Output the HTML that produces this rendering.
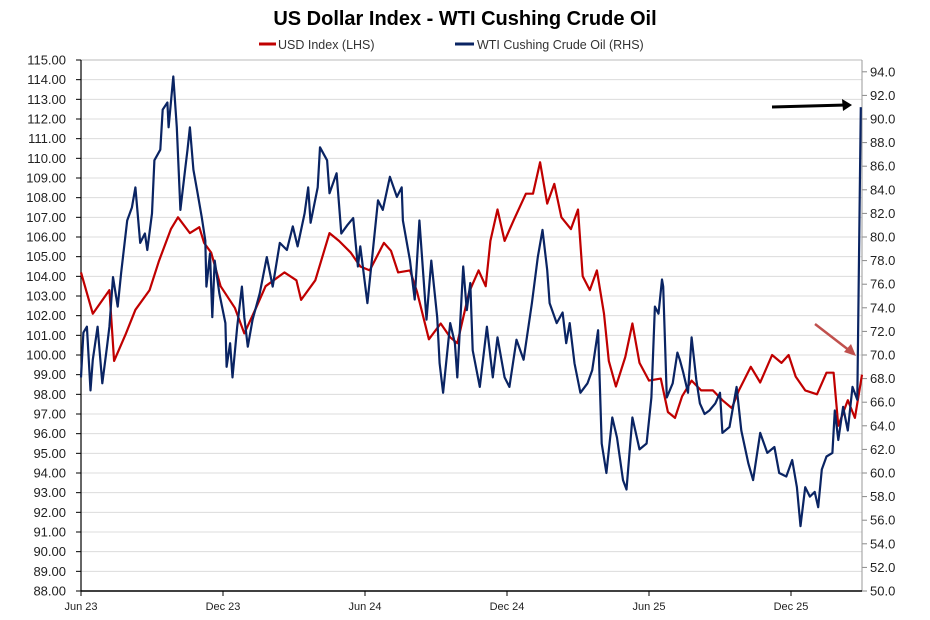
<!DOCTYPE html>
<html><head><meta charset="utf-8"><style>
body{margin:0;background:#fff;}
svg{display:block;font-family:"Liberation Sans",sans-serif;}
</style></head><body>
<svg id="chart" width="930" height="620" viewBox="0 0 930 620">
<text x="465" y="25" text-anchor="middle" font-size="20" font-weight="bold" fill="#000">US Dollar Index - WTI Cushing Crude Oil</text>
<g>
<g><line x1="259" y1="44" x2="276" y2="44" stroke="#c00000" stroke-width="3"/><text x="278" y="49" font-size="12.5" fill="#333">USD Index (LHS)</text></g>
<g><line x1="455" y1="44" x2="474" y2="44" stroke="#0a2463" stroke-width="3"/><text x="477" y="49" font-size="12.5" fill="#333">WTI Cushing Crude Oil (RHS)</text></g>
</g>
<g id="grid"></g>
<g id="laxis"></g>
<g id="raxis"></g>
<g id="xaxis"></g>
<g id="series"></g>
<g>
<line x1="772" y1="107" x2="846" y2="105" stroke="#000" stroke-width="3"/>
<polygon points="852,105 842,99 843,111" fill="#000"/>
<line x1="815" y1="324" x2="850" y2="351" stroke="#c0504d" stroke-width="2.5"/>
<polygon points="856,356 844,352 851,344" fill="#c0504d"/>
</g>
</svg>
<script>
const usdT=[0,0.5,1.2,1.4,1.9,2.3,2.9,3.3,3.8,4.1,4.6,5.0,5.2,5.5,5.9,6.5,6.9,7.4,7.8,8.6,9.1,9.3,9.9,10.5,10.9,11.4,11.8,12.2,12.8,13.1,13.4,13.9,14.2,14.7,15.2,15.6,15.9,16.4,16.8,17.1,17.3,17.6,17.9,18.3,18.8,19.1,19.4,19.7,20.0,20.3,20.7,21.0,21.2,21.5,21.8,22.1,22.3,22.6,23.0,23.3,23.6,24.0,24.5,24.8,25.1,25.4,25.8,26.2,26.7,27.1,27.5,27.8,28.3,28.7,29.2,29.6,29.9,30.2,30.6,31.1,31.5,31.8,32.0,32.4,32.7,33.0];
const usdV=[104.2,102.1,103.3,99.7,101.1,102.3,103.3,104.8,106.4,107.0,106.2,106.5,105.7,105.2,103.5,102.4,101.1,102.4,103.5,104.2,103.8,102.8,103.8,106.2,105.8,105.2,104.5,104.3,105.7,105.3,104.2,104.3,103.2,100.8,101.6,100.9,100.6,103.2,104.3,103.5,105.8,107.4,105.8,106.9,108.2,108.2,109.8,107.7,108.7,107.0,106.4,107.4,104.0,103.3,104.3,102.1,99.7,98.4,99.9,101.6,99.6,98.7,98.8,97.1,96.8,97.9,98.7,98.2,98.2,97.7,97.3,98.2,99.4,98.6,100.0,99.6,100.0,98.9,98.2,98.0,99.1,99.1,96.4,97.7,96.8,99.0];
const wtiT=[0,0.1,0.25,0.4,0.5,0.7,0.9,1.1,1.2,1.35,1.55,1.7,1.95,2.15,2.3,2.5,2.7,2.8,3.0,3.1,3.35,3.45,3.65,3.7,3.9,4.05,4.2,4.4,4.5,4.6,4.75,4.9,5.1,5.25,5.3,5.45,5.55,5.65,5.85,6.1,6.15,6.3,6.4,6.6,6.8,6.9,7.05,7.25,7.55,7.85,8.1,8.4,8.7,8.95,9.15,9.45,9.6,9.7,10.0,10.1,10.4,10.5,10.8,11.0,11.25,11.5,11.7,11.8,12.1,12.35,12.55,12.75,13.05,13.35,13.55,13.6,13.9,14.1,14.3,14.6,14.8,15.05,15.15,15.3,15.6,15.8,15.9,16.15,16.3,16.45,16.55,16.85,17.15,17.4,17.6,17.9,18.1,18.4,18.7,19.05,19.3,19.5,19.7,19.8,20.1,20.35,20.5,20.65,20.85,21.1,21.4,21.6,21.85,22.0,22.2,22.45,22.65,22.9,23.05,23.3,23.6,23.9,24.1,24.25,24.4,24.55,24.6,24.75,25.0,25.2,25.3,25.45,25.65,25.8,26.0,26.15,26.35,26.55,26.8,27.0,27.1,27.4,27.7,27.9,28.2,28.4,28.7,29.0,29.3,29.5,29.8,30.05,30.25,30.4,30.6,30.8,31.0,31.15,31.3,31.5,31.75,31.85,32.0,32.2,32.4,32.6,32.8,32.95];
const wtiV=[68.1,71.9,72.4,67.0,69.6,72.4,67.6,70.7,72.4,76.6,74.1,77.0,81.4,82.5,84.2,79.5,80.3,78.9,82.0,86.5,87.4,90.8,91.4,89.3,93.6,89.3,82.3,85.7,87.4,89.3,85.7,84.0,81.7,79.7,75.8,78.6,73.2,78.0,75.2,72.7,69.0,71.0,68.1,72.4,75.8,73.2,70.7,73.0,75.2,78.3,75.8,79.5,78.9,80.9,79.2,82.0,84.2,81.2,84.2,87.6,86.5,83.7,85.4,80.3,81.0,81.6,77.5,79.2,74.4,79.2,83.1,82.3,85.1,83.4,84.2,81.4,78.0,74.7,81.4,73.0,78.0,73.2,69.3,66.8,72.7,71.0,68.1,77.5,73.8,76.1,70.4,67.3,72.4,68.1,71.5,68.1,67.3,71.3,69.6,74.4,78.3,80.6,77.2,74.4,72.7,73.6,71.0,72.7,69.3,66.8,67.6,68.7,72.1,62.5,60.0,64.7,63.0,59.4,58.6,64.7,62.0,62.5,66.4,74.1,73.5,76.4,75.8,66.4,67.6,70.2,69.6,68.5,66.8,71.5,67.9,65.9,65.0,65.3,65.9,66.8,63.4,63.9,67.3,63.6,60.8,59.4,63.4,61.7,62.2,60.0,59.7,61.1,58.8,55.5,58.8,58.0,58.4,57.1,60.3,61.4,61.7,65.3,62.8,65.6,63.6,67.3,66.2,91.0];
const leftTicks=[88,89,90,91,92,93,94,95,96,97,98,99,100,101,102,103,104,105,106,107,108,109,110,111,112,113,114,115];
const rightTicks=[50,52,54,56,58,60,62,64,66,68,70,72,74,76,78,80,82,84,86,88,90,92,94];
const xLabels=["Jun 23","Dec 23","Jun 24","Dec 24","Jun 25","Dec 25"];
const xLabelMonths=[0,6,12,18,24,30];

const NS="http://www.w3.org/2000/svg";
const L=81,R=862,T=60,B=591;
const xS=m=>L+m*(142/6);
const yL=v=>B-(v-88)*(B-T)/27;
const yR=v=>B-(v-50)*(B-T)/45;
function mk(tag,attrs,parent){const e=document.createElementNS(NS,tag);for(const k in attrs)e.setAttribute(k,attrs[k]);parent.appendChild(e);return e;}
const grid=document.getElementById('grid'),la=document.getElementById('laxis'),ra=document.getElementById('raxis'),xa=document.getElementById('xaxis'),se=document.getElementById('series');
leftTicks.forEach(v=>{
  const y=yL(v);
  const g=mk('line',{x1:L,x2:R,y1:y,y2:y,stroke:v===115?'#bbb':'#dcdcdc','stroke-width':1},grid);
  
  
  mk('line',{x1:L-5,x2:L,y1:y,y2:y,stroke:'#000','stroke-width':1},la);
  const t=mk('text',{x:66,y:y+4.5,'text-anchor':'end','font-size':13,fill:'#222'},la);
  t.textContent=v.toFixed(2);
  
  
});
rightTicks.forEach(v=>{
  const y=yR(v);
  mk('line',{x1:R,x2:R+5,y1:y,y2:y,stroke:'#888','stroke-width':1},ra);
  const t=mk('text',{x:870,y:y+4.5,'font-size':13,fill:'#222'},ra);
  t.textContent=v.toFixed(1);
  
  
});
mk('line',{x1:L,x2:L,y1:T,y2:B,stroke:'#000','stroke-width':1.2},la);
mk('line',{x1:R,x2:R,y1:T,y2:B,stroke:'#999','stroke-width':1},ra);
mk('line',{x1:L,x2:R,y1:B,y2:B,stroke:'#000','stroke-width':1.5},xa);
xLabels.forEach((s,i)=>{
  const x=xS(xLabelMonths[i]);
  mk('line',{x1:x,x2:x,y1:B,y2:B+5,stroke:'#000','stroke-width':1},xa);
  const t=mk('text',{x:x,y:610,'text-anchor':'middle','font-size':11,fill:'#222'},xa);
  t.textContent=s;
  
  
});
const pu=mk('polyline',{points:usdT.map((m,i)=>xS(m).toFixed(1)+','+yL(usdV[i]).toFixed(1)).join(' '),fill:'none',stroke:'#c00000','stroke-width':2.2,'stroke-linejoin':'round'},se);


const pw=mk('polyline',{points:wtiT.map((m,i)=>xS(m).toFixed(1)+','+yR(wtiV[i]).toFixed(1)).join(' '),fill:'none',stroke:'#0a2463','stroke-width':2.2,'stroke-linejoin':'round'},se);


</script>
</body></html>
